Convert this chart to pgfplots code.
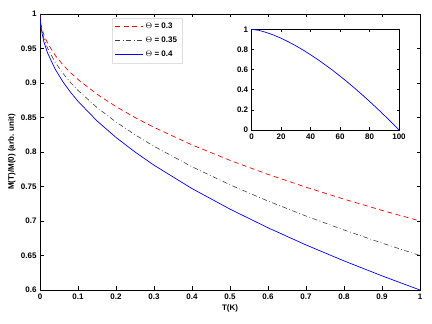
\documentclass[border=0pt]{standalone}
\usepackage{pgfplots}
\pgfplotsset{compat=1.18}
\usepackage{fontspec}
\setmainfont{Liberation Sans}

% M(T)/M(0) for three exponents
\pgfplotstableread{
T       th30    th35    th40
0       1.000   1.000   1.000
0.0004  0.994   0.993   0.992
0.0025  0.985   0.9825  0.980
0.01    0.970   0.965   0.960
0.02    0.9576  0.9505  0.9434
0.04    0.940   0.930   0.920
0.06    0.9265  0.9143  0.902
0.08    0.9152  0.901   0.8869
0.10    0.9051  0.8893  0.8735
0.15    0.8838  0.8644  0.8451
0.20    0.8658  0.8435  0.8211
0.25    0.850   0.825   0.800
0.30    0.8357  0.8083  0.7809
0.40    0.8103  0.7786  0.747
0.50    0.7879  0.7525  0.7172
0.60    0.7676  0.7289  0.6902
0.70    0.749   0.7072  0.6653
0.80    0.7317  0.687   0.6422
0.90    0.7154  0.668   0.6205
1.00    0.700   0.650   0.600
}\maindata

\pgfplotstableread{
T    M
0    1.000
5    0.989
10   0.968
15   0.942
20   0.911
25   0.875
30   0.836
35   0.793
40   0.747
45   0.698
50   0.646
55   0.592
60   0.535
65   0.476
70   0.414
75   0.350
80   0.284
85   0.216
90   0.146
95   0.074
100  0.000
}\insetdata

\pgfplotsset{
  mystyle/.style={
    scale only axis,
    axis line style={line width=0.9pt},
    every tick/.style={black, line width=0.5pt},
    tick label style={font=\fontsize{8}{9}\selectfont\bfseries},
    label style={font=\fontsize{8}{9}\selectfont\bfseries},
    /pgf/number format/assume math mode=true,
    /pgf/number format/fixed,
    /pgf/number format/precision=2,
  },
}

\begin{document}
\begin{tikzpicture}
\begin{axis}[
    mystyle,
    name=main,
    at={(0pt,0pt)}, anchor=south west,
    width=380pt, height=276pt,
    xmin=0, xmax=1, ymin=0.6, ymax=1,
    xtick={0,0.1,...,1.01},
    ytick={0.6,0.65,...,1.01},
    xlabel={T(K)},
    ylabel={M(T)/M(0) (arb. unit)},
    xlabel style={at={(axis description cs:0.5,-0.065)}, anchor=center},
    ylabel style={at={(axis description cs:-0.074,0.5)}, anchor=center},
    major tick length=3.5pt,
    legend style={at={(axis description cs:0.189,0.986)}, anchor=north west,
      draw=gray!25, font=\fontsize{8}{9}\selectfont\bfseries,
      row sep=3pt, inner xsep=3pt, inner ysep=3pt},
    legend cell align=left,
    legend image code/.code={\draw[#1] (0pt,0pt) -- (28pt,0pt);},
]
\addplot[red, line width=0.7pt, dash pattern=on 5pt off 3.5pt] table[x=T, y=th30] {\maindata};
\addplot[black!75, line width=0.6pt, dash pattern=on 5pt off 2.5pt on 0.8pt off 2.5pt] table[x=T, y=th35] {\maindata};
\addplot[blue, line width=0.7pt] table[x=T, y=th40] {\maindata};
\legend{$\Theta$ = 0.3, $\Theta$ = 0.35, $\Theta$ = 0.4}
\end{axis}

\begin{axis}[
    mystyle,
    at={(211.7pt,160pt)}, anchor=south west,
    width=147.3pt, height=100.7pt,
    xmin=0, xmax=100, ymin=0, ymax=1,
    xtick={0,20,...,100},
    ytick={0,0.2,...,1.01},
    major tick length=2.5pt,
    axis background/.style={fill=white},
]
\addplot[blue, line width=0.7pt] table[x=T, y=M] {\insetdata};
\end{axis}

\path[use as bounding box] ([xshift=-40pt,yshift=-34pt]main.south west) rectangle ([xshift=12pt,yshift=14pt]main.north east);
\end{tikzpicture}
\end{document}
